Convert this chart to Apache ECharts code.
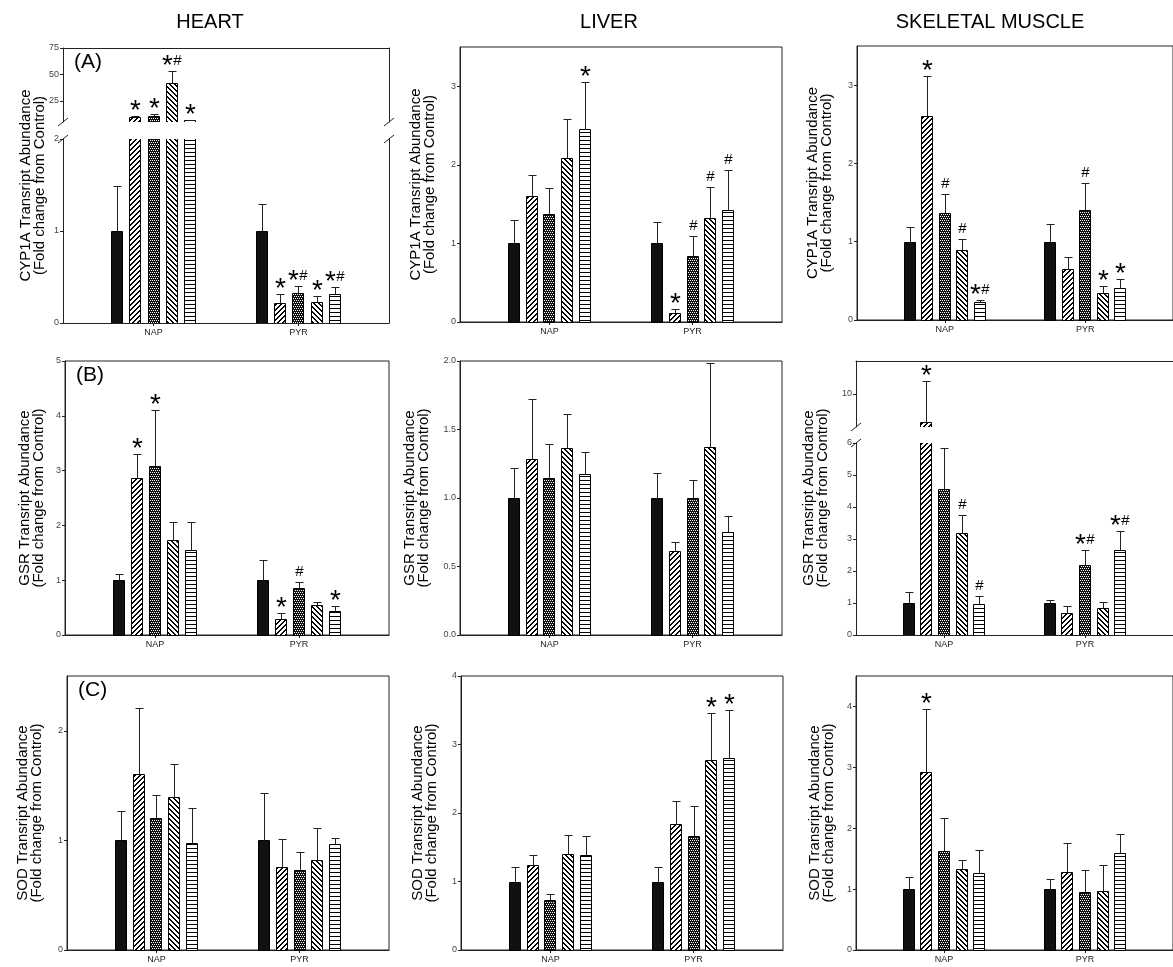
<!DOCTYPE html>
<html><head><meta charset="utf-8">
<script src="https://cdn.jsdelivr.net/npm/echarts@6/dist/echarts.min.js"></script>
<style>html,body{margin:0;padding:0;background:#fff}#c{width:1173px;height:967px}</style>
</head><body><div id="c"></div>
<script>
// ---------------- data ----------------
const categories = ['NAP', 'PYR'];
const columnTitles = ['HEART', 'LIVER', 'SKELETAL MUSCLE'];
const rowLabels = ['(A)', '(B)', '(C)'];
const geneNames = ['CYP1A', 'GSR', 'SOD'];

// Heart CYP1A (broken axis)
const heartCyp1aMean = [[1.00, 9.5, 10.5, 41.5, 6.5], [1.00, 0.22, 0.33, 0.23, 0.32]];
const heartCyp1aErr  = [[0.49, 1.5, 2.5, 12.0, 0.4], [0.29, 0.09, 0.07, 0.06, 0.07]];
const heartCyp1aSig  = [['', '*', '*', '*#', '*'], ['', '*', '*#', '*', '*#']];
const heartCyp1aLowerRange = [0, 2];
const heartCyp1aLowerTicks = [0, 1, 2];
const heartCyp1aUpperRange = [5, 75];
const heartCyp1aUpperTicks = [25, 50, 75];

// Liver CYP1A
const liverCyp1aMean = [[1.00, 1.60, 1.38, 2.09, 2.46], [1.00, 0.11, 0.84, 1.33, 1.43]];
const liverCyp1aErr  = [[0.30, 0.27, 0.32, 0.49, 0.60], [0.27, 0.06, 0.25, 0.39, 0.51]];
const liverCyp1aSig  = [['', '', '', '', '*'], ['', '*', '#', '#', '#']];
const liverCyp1aRange = [0, 3.5];
const liverCyp1aTicks = [0, 1, 2, 3];

// Skeletal muscle CYP1A
const skelCyp1aMean = [[1.00, 2.61, 1.37, 0.89, 0.23], [1.00, 0.65, 1.40, 0.34, 0.41]];
const skelCyp1aErr  = [[0.19, 0.51, 0.24, 0.15, 0.03], [0.22, 0.16, 0.35, 0.09, 0.11]];
const skelCyp1aSig  = [['', '*', '#', '#', '*#'], ['', '', '#', '*', '*']];
const skelCyp1aRange = [0, 3.5];
const skelCyp1aTicks = [0, 1, 2, 3];

// Heart GSR
const heartGsrMean = [[1.00, 2.86, 3.08, 1.74, 1.56], [1.00, 0.30, 0.85, 0.54, 0.44]];
const heartGsrErr  = [[0.12, 0.44, 1.02, 0.33, 0.51], [0.37, 0.11, 0.12, 0.07, 0.09]];
const heartGsrSig  = [['', '*', '*', '', ''], ['', '*', '#', '', '*']];
const heartGsrRange = [0, 5];
const heartGsrTicks = [0, 1, 2, 3, 4, 5];

// Liver GSR
const liverGsrMean = [[1.00, 1.285, 1.146, 1.363, 1.177], [1.00, 0.613, 1.00, 1.375, 0.752]];
const liverGsrErr  = [[0.22, 0.44, 0.245, 0.25, 0.16], [0.18, 0.063, 0.135, 0.61, 0.12]];
const liverGsrSig  = [['', '', '', '', ''], ['', '', '', '', '']];
const liverGsrRange = [0, 2];
const liverGsrTicks = [0, 0.5, 1, 1.5, 2];
const liverGsrTickLabels = ['0.0', '0.5', '1.0', '1.5', '2.0'];

// Skeletal muscle GSR (broken axis)
const skelGsrMean = [[1.00, 8.3, 4.57, 3.19, 0.97], [1.00, 0.70, 2.18, 0.85, 2.65]];
const skelGsrErr  = [[0.33, 2.5, 1.26, 0.57, 0.26], [0.10, 0.20, 0.49, 0.17, 0.59]];
const skelGsrSig  = [['', '*', '', '#', '#'], ['', '', '*#', '', '*#']];
const skelGsrLowerRange = [0, 6];
const skelGsrLowerTicks = [0, 1, 2, 3, 4, 5, 6];
const skelGsrUpperRange = [8, 12];
const skelGsrUpperTicks = [10];

// Heart SOD
const heartSodMean = [[1.00, 1.61, 1.20, 1.40, 0.98], [1.00, 0.76, 0.73, 0.82, 0.97]];
const heartSodErr  = [[0.27, 0.60, 0.21, 0.30, 0.32], [0.43, 0.25, 0.16, 0.29, 0.05]];
const heartSodSig  = [['', '', '', '', ''], ['', '', '', '', '']];
const heartSodRange = [0, 2.5];
const heartSodTicks = [0, 1, 2];

// Liver SOD
const liverSodMean = [[1.00, 1.24, 0.73, 1.40, 1.39], [1.00, 1.84, 1.67, 2.78, 2.80]];
const liverSodErr  = [[0.21, 0.14, 0.09, 0.28, 0.28], [0.21, 0.33, 0.43, 0.68, 0.71]];
const liverSodSig  = [['', '', '', '', ''], ['', '', '', '*', '*']];
const liverSodRange = [0, 4];
const liverSodTicks = [0, 1, 2, 3, 4];

// Skeletal muscle SOD
const skelSodMean = [[1.00, 2.92, 1.63, 1.33, 1.26], [1.00, 1.28, 0.96, 0.975, 1.59]];
const skelSodErr  = [[0.20, 1.04, 0.53, 0.14, 0.38], [0.17, 0.48, 0.36, 0.42, 0.31]];
const skelSodSig  = [['', '*', '', '', ''], ['', '', '', '', '']];
const skelSodRange = [0, 4.5];
const skelSodTicks = [0, 1, 2, 3, 4];

// ---------------- layout ----------------
const FONT = '"Liberation Sans", Arial, sans-serif';
const slotCount = 19;
const groupCenterSlots = [5, 13];
const slotLabels = Array.from({length: slotCount}, (_, i) => {
  const g = groupCenterSlots.indexOf(i);
  return g >= 0 ? categories[g] : '';
});

const panels = [
  {row:0, col:0, rect:{left:63, top:48, width:326, height:275}, nameGap:16,
   mean:heartCyp1aMean, err:heartCyp1aErr, sig:heartCyp1aSig,
   broken:{upperHeight:74, lowerTop:139,
     lower:{range:heartCyp1aLowerRange, ticks:heartCyp1aLowerTicks},
     upper:{range:heartCyp1aUpperRange, ticks:heartCyp1aUpperTicks}}},
  {row:0, col:1, rect:{left:460, top:47, width:322, height:275}, nameGap:23,
   mean:liverCyp1aMean, err:liverCyp1aErr, sig:liverCyp1aSig, range:liverCyp1aRange, ticks:liverCyp1aTicks},
  {row:0, col:2, rect:{left:857, top:46, width:323, height:274}, nameGap:23,
   mean:skelCyp1aMean, err:skelCyp1aErr, sig:skelCyp1aSig, range:skelCyp1aRange, ticks:skelCyp1aTicks},
  {row:1, col:0, rect:{left:65, top:361, width:324, height:274}, nameGap:19,
   mean:heartGsrMean, err:heartGsrErr, sig:heartGsrSig, range:heartGsrRange, ticks:heartGsrTicks},
  {row:1, col:1, rect:{left:460, top:361, width:322, height:274}, nameGap:29,
   mean:liverGsrMean, err:liverGsrErr, sig:liverGsrSig, range:liverGsrRange, ticks:liverGsrTicks, tickLabels:liverGsrTickLabels},
  {row:1, col:2, rect:{left:856, top:361, width:323, height:274}, nameGap:26,
   mean:skelGsrMean, err:skelGsrErr, sig:skelGsrSig,
   broken:{upperHeight:66, lowerTop:443,
     lower:{range:skelGsrLowerRange, ticks:skelGsrLowerTicks},
     upper:{range:skelGsrUpperRange, ticks:skelGsrUpperTicks}}},
  {row:2, col:0, rect:{left:67, top:676, width:322, height:274}, nameGap:23,
   mean:heartSodMean, err:heartSodErr, sig:heartSodSig, range:heartSodRange, ticks:heartSodTicks},
  {row:2, col:1, rect:{left:461, top:676, width:322, height:274}, nameGap:22,
   mean:liverSodMean, err:liverSodErr, sig:liverSodSig, range:liverSodRange, ticks:liverSodTicks},
  {row:2, col:2, rect:{left:856, top:676, width:323, height:274}, nameGap:20,
   mean:skelSodMean, err:skelSodErr, sig:skelSodSig, range:skelSodRange, ticks:skelSodTicks},
];

// ---------------- fill patterns ----------------
function makeTile(w, h, painter) {
  const c = document.createElement('canvas');
  c.width = w; c.height = h;
  const ctx = c.getContext('2d');
  ctx.fillStyle = '#fff'; ctx.fillRect(0, 0, w, h);
  ctx.fillStyle = '#000';
  painter(ctx);
  return c;
}
const tileFwd = makeTile(5, 5, ctx => { for (let r = 0; r < 5; r++) { ctx.fillRect((4 - r), r, 1, 1); ctx.fillRect((5 - r) % 5, r, 1, 1); } });
const tileBack = makeTile(5, 5, ctx => { for (let r = 0; r < 5; r++) { ctx.fillRect(r, r, 1, 1); ctx.fillRect((r + 1) % 5, r, 1, 1); } });
const tileDots = makeTile(4, 4, ctx => {
  ctx.fillStyle = '#111'; ctx.fillRect(0, 0, 4, 4);
  ctx.fillStyle = '#fff';
  ctx.fillRect(0, 0, 1, 1); ctx.fillRect(2, 0, 1, 1); ctx.fillRect(1, 2, 1, 1); ctx.fillRect(3, 2, 1, 1);
});
const tileHoriz = makeTile(4, 4, ctx => { ctx.fillRect(0, 0, 4, 1); });
const barFills = [
  '#111',
  {image: tileFwd, repeat: 'repeat'},
  {image: tileDots, repeat: 'repeat'},
  {image: tileBack, repeat: 'repeat'},
  {image: tileHoriz, repeat: 'repeat'}
];

// ---------------- builders ----------------
const option = {
  animation: false,
  backgroundColor: '#fff',
  title: [], grid: [], xAxis: [], yAxis: [], series: [], graphic: []
};

columnTitles.forEach((t, i) => {
  const centers = [205, 604, 985];
  option.title.push({text: t, left: centers[i], top: 7, textAlign: 'center',
    textStyle: {fontSize: 20, fontWeight: 'normal', color: '#000', fontFamily: FONT}});
});

function addGrid(left, top, width, height, border) {
  option.grid.push({left, top, width, height, containLabel: false,
    show: !!border, borderColor: '#222', borderWidth: 1, backgroundColor: 'transparent'});
  return option.grid.length - 1;
}
function addX(gi, opts) {
  const lab = !!opts.labels;
  option.xAxis.push({
    type: 'category', gridIndex: gi, data: slotLabels, boundaryGap: false,
    position: opts.position || 'bottom', show: opts.show !== false,
    axisLine: {show: opts.line !== false, onZero: false, lineStyle: {color: '#222', width: 1}},
    axisTick: {show: lab, length: 3, interval: (i) => slotLabels[i] !== '', lineStyle: {color: '#222'}},
    axisLabel: {show: lab, interval: (i) => slotLabels[i] !== '', fontSize: 9, color: '#222', margin: 5, fontFamily: FONT},
    splitLine: {show: false}
  });
  return option.xAxis.length - 1;
}
function addY(gi, range, ticks, tickLabels, extra) {
  const fmt = (v) => {
    const k = ticks.findIndex(t => Math.abs(t - v) < 1e-9);
    if (tickLabels && k >= 0) return tickLabels[k];
    return String(v);
  };
  option.yAxis.push(Object.assign({
    type: 'value', gridIndex: gi, min: range[0], max: range[1],
    axisLine: {show: true, lineStyle: {color: '#222', width: 1}},
    axisTick: {show: true, inside: false, length: 3, lineStyle: {color: '#222'}, customValues: ticks},
    axisLabel: {show: true, customValues: ticks, fontSize: 9, color: '#444', margin: 4, fontFamily: FONT, formatter: fmt},
    splitLine: {show: false}
  }, extra || {}));
  return option.yAxis.length - 1;
}
function addPlainY(gi, range, position) {
  option.yAxis.push({type: 'value', gridIndex: gi, min: range[0], max: range[1], position,
    axisLine: {show: true, lineStyle: {color: '#222', width: 1}},
    axisTick: {show: false}, axisLabel: {show: false}, splitLine: {show: false}});
  return option.yAxis.length - 1;
}

function barData(mean, err) {
  const d = [];
  for (let g = 0; g < 2; g++)
    for (let t = 0; t < 5; t++)
      d.push([groupCenterSlots[g] + t - 2, mean[g][t], err[g][t], t, g]);
  return d;
}

function annotations(s, cx, capY) {
  const els = [];
  if (!s) return els;
  const star = s.indexOf('*') >= 0, hash = s.indexOf('#') >= 0;
  const both = star && hash;
  if (star) els.push({type: 'text', style: {text: '*', x: cx + (both ? -5 : 0), y: capY - 5,
    align: 'center', verticalAlign: 'middle', fontSize: 28, fontFamily: FONT, fill: '#000'}});
  if (hash) els.push({type: 'text', style: {text: '#', x: cx + (both ? 5 : 0), y: capY - 11,
    align: 'center', verticalAlign: 'middle', fontSize: 15, fontFamily: FONT, fill: '#000'}});
  return els;
}

// segRange: value range of the axis segment that this series draws into
function makeRender(segRange, sig, isUpper) {
  return function (params, api) {
    const slot = api.value(0), mean = api.value(1), err = api.value(2);
    const t = api.value(3), g = api.value(4);
    if (isUpper && mean <= segRange[0]) return {type: 'group', children: []};
    const pBase = api.coord([slot, segRange[0]]);
    const pTop = api.coord([slot, mean]);
    const pErr = api.coord([slot, mean + err]);
    const cx = Math.round(pTop[0]);
    const yTop = Math.round(pTop[1]) + 0.5;
    const yBase = Math.round(pBase[1]) + 0.5 + (isUpper ? 4 : 0);
    const yErr = Math.round(pErr[1]) + 0.5;
    const children = [
      {type: 'rect', shape: {x: cx - 5.5, y: yTop, width: 11, height: yBase - yTop},
       style: {fill: barFills[t], stroke: '#000', lineWidth: 1}}
    ];
    const capInside = (mean + err) <= segRange[1] && (mean + err) >= segRange[0];
    if (mean <= segRange[1]) {
      children.push(
        {type: 'line', shape: {x1: cx + 0.5, y1: yTop, x2: cx + 0.5, y2: yErr},
         style: {stroke: '#222', lineWidth: 1}},
        {type: 'line', shape: {x1: cx - 3.5, y1: yErr, x2: cx + 4.5, y2: yErr},
         style: {stroke: '#222', lineWidth: 1}});
    }
    if (capInside) annotations(sig[g][t], cx + 0.5, yErr).forEach(e => children.push(e));
    return {type: 'group', children};
  };
}

function yName(p) {
  return geneNames[p.row] + ' Transript Abundance\n(Fold change from Control)';
}
const nameStyle = {fontSize: 15, lineHeight: 14, color: '#000', fontFamily: FONT};

panels.forEach((p) => {
  const r = p.rect;
  const data = barData(p.mean, p.err);
  if (!p.broken) {
    const gi = addGrid(r.left, r.top, r.width, r.height, true);
    const xi = addX(gi, {labels: true});
    const yi = addY(gi, p.range, p.ticks, p.tickLabels, {
      name: yName(p), nameLocation: 'middle', nameGap: p.nameGap, nameTextStyle: nameStyle});
    option.series.push({type: 'custom', xAxisIndex: xi, yAxisIndex: yi, clip: false,
      data, renderItem: makeRender(p.range, p.sig, false), z: 3});
  } else {
    const b = p.broken;
    // frame grid carrying the axis title
    const gf = addGrid(r.left, r.top, r.width, r.height, false);
    addX(gf, {show: false});
    option.yAxis.push({type: 'value', gridIndex: gf, min: 0, max: 1,
      axisLine: {show: false}, axisTick: {show: false}, axisLabel: {show: false}, splitLine: {show: false},
      name: yName(p), nameLocation: 'middle', nameGap: p.nameGap, nameTextStyle: nameStyle});
    // upper segment
    const gu = addGrid(r.left, r.top, r.width, b.upperHeight, false);
    const xu = addX(gu, {position: 'top', labels: false});
    const yu = addY(gu, b.upper.range, b.upper.ticks, null);
    addPlainY(gu, b.upper.range, 'right');
    option.series.push({type: 'custom', xAxisIndex: xu, yAxisIndex: yu, clip: true,
      data, renderItem: makeRender(b.upper.range, p.sig, true), z: 3});
    // lower segment
    const bottom = r.top + r.height;
    const gl = addGrid(r.left, b.lowerTop, r.width, bottom - b.lowerTop, false);
    const xl = addX(gl, {labels: true});
    const yl = addY(gl, b.lower.range, b.lower.ticks, null);
    addPlainY(gl, b.lower.range, 'right');
    option.series.push({type: 'custom', xAxisIndex: xl, yAxisIndex: yl, clip: true,
      data, renderItem: makeRender(b.lower.range, p.sig, false), z: 3});
    // break marks
    const yA = r.top + b.upperHeight, yB = b.lowerTop;
    [r.left, r.left + r.width].forEach(x => {
      [yA, yB].forEach(y => {
        option.graphic.push({type: 'line', shape: {x1: x - 5, y1: y + 4, x2: x + 5, y2: y - 4},
          style: {stroke: '#222', lineWidth: 1}, z: 10});
      });
    });
  }
  if (p.col === 0) {
    option.title.push({text: rowLabels[p.row], left: p.rect.left + 6, top: p.rect.top - 1,
      textStyle: {fontSize: 21, fontWeight: 'normal', color: '#000', fontFamily: FONT}});
  }
});

const chart = echarts.init(document.getElementById('c'), null, {renderer: 'canvas'});
chart.setOption(option);
</script>
</body></html>
